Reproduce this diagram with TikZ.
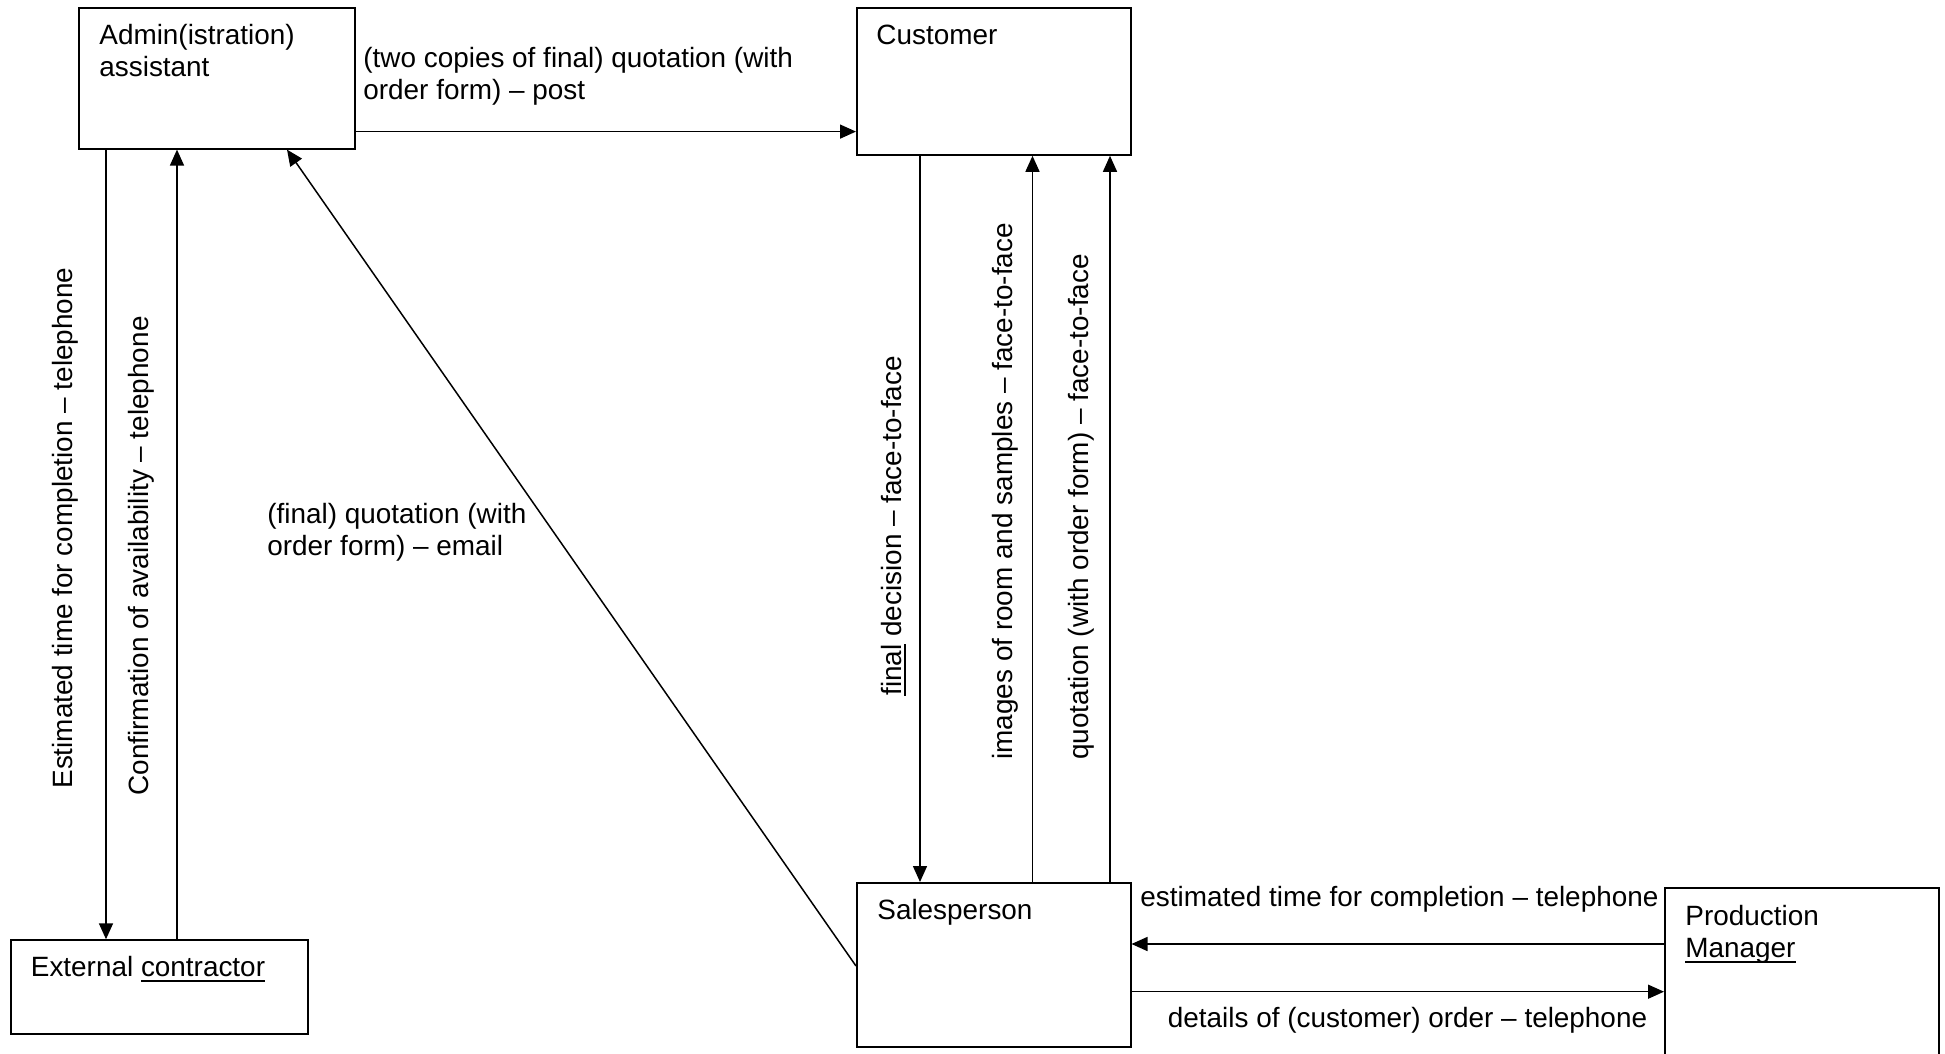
\documentclass[tikz,border=0pt]{standalone}
\usepackage{fontspec}
\setmainfont{Liberation Sans}
\usetikzlibrary{arrows.meta,calc}
\newcommand\ulx[1]{\setbox0\hbox{#1}\rlap{\rule[-2.7pt]{\wd0}{1.1pt}}\box0\relax}
\newcommand\lbfont{\fontsize{13.95pt}{16.05pt}\selectfont}
\begin{document}
\begin{tikzpicture}[x=0.5pt,y=-0.5pt,
  box/.style={draw, line width=1pt, inner sep=0pt, anchor=north west, rectangle},
  lbl/.style={anchor=base west, inner sep=0pt, font=\lbfont},
  vlbl/.style={lbl, rotate=90},
  conn/.style={line width=0.75pt},
  arr/.style={conn, -{Triangle[length=8pt,width=7pt]}}]
\useasboundingbox (0,0) rectangle (1945,1054);
\clip (0,0) rectangle (1945,1054);

% boxes
\node[box, minimum width=137.75pt, minimum height=70.1pt] (admin) at (78,7.4) {};
\node[box, minimum width=137pt, minimum height=73.2pt] (cust) at (856,7.4) {};
\node[box, minimum width=148.5pt, minimum height=47pt] (ext) at (9.5,939.3) {};
\node[box, minimum width=136.75pt, minimum height=81.8pt] (sales) at (856,882) {};
\node[box, minimum width=137pt, minimum height=100pt] (pm) at (1664,887.3) {};

% box texts
\node[lbl] (tadmin1) at ($(admin.north west)+(21,37)$) {Admin(istration)};
\node[lbl] (tadmin2) at ($(admin.north west)+(21,69)$) {assistant};
\node[lbl] (tcust) at ($(cust.north west)+(20,37)$) {Customer};
\node[lbl] (text) at ($(ext.north west)+(21,37)$) {External \ulx{contractor}};
\node[lbl] (tsales) at ($(sales.north west)+(21,37)$) {Salesperson};
\node[lbl] (tpm1) at ($(pm.north west)+(21,38)$) {Production};
\node[lbl] (tpm2) at ($(pm.north west)+(21,70)$) {\ulx{Manager}};

% helper coordinates
\coordinate (ya) at (0,131.6);
\coordinate (xa) at (106,0);
\coordinate (xb) at (177,0);
\coordinate (xd) at (287,0);
\coordinate (yd) at (0,966);
\coordinate (xc) at (920,0);
\coordinate (xe) at (1032.5,0);
\coordinate (xf) at (1110,0);
\coordinate (yg) at (0,944);
\coordinate (yh) at (0,991.7);

% connectors
\draw[arr] (admin.east |- ya) -- (cust.west |- ya);
\draw[arr] (admin.south -| xa) -- (ext.north -| xa);
\draw[arr] (ext.north -| xb) -- (admin.south -| xb);
\draw[arr] (sales.west |- yd) -- (admin.south -| xd);
\draw[arr] (cust.south -| xc) -- (sales.north -| xc);
\draw[arr] (sales.north -| xe) -- (cust.south -| xe);
\draw[arr] (sales.north -| xf) -- (cust.south -| xf);
\draw[arr] (pm.west |- yg) -- (sales.east |- yg);
\draw[arr] (sales.east |- yh) -- (pm.west |- yh);

% connector labels
\node[lbl] (lpost1) at (363,68) {(two copies of final) quotation (with};
\node[lbl] (lpost2) at (363,100) {order form) – post};
\node[lbl] (lmail1) at (267,523) {(final) quotation (with};
\node[lbl] (lmail2) at (267,555) {order form) – email};
\node[lbl] (lest) at (1140,906) {estimated time for completion – telephone};
\node[lbl] (ldet) at (1167.5,1027) {details of (customer) order – telephone};
\node[vlbl] (lv1) at (72,789) {Estimated time for completion – telephone};
\node[vlbl] (lv2) at (148.5,796) {Confirmation of availability – telephone};
\node[vlbl] (lv3) at (901,696) {\ulx{final} decision – face-to-face};
\node[vlbl] (lv4) at (1012,760) {images of room and samples – face-to-face};
\node[vlbl] (lv5) at (1088,760) {quotation (with order form) – face-to-face};
\end{tikzpicture}
\end{document}
